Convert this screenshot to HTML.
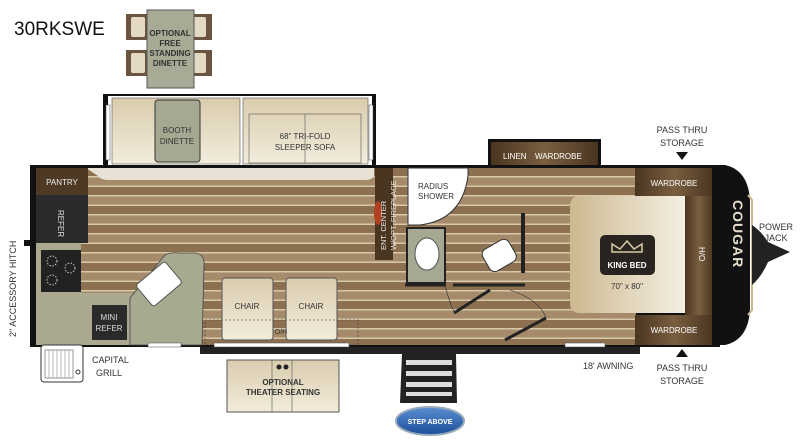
<!DOCTYPE html>
<html><head><meta charset="utf-8"><style>
html,body{margin:0;padding:0;background:#fff;}
svg{display:block;font-family:"Liberation Sans",sans-serif;}
</style></head><body>
<svg width="800" height="441" viewBox="0 0 800 441" xmlns="http://www.w3.org/2000/svg">
<defs>
<pattern id="wood" x="0" y="168" width="40" height="19" patternUnits="userSpaceOnUse">
<rect width="40" height="19" fill="#a58b6a"/>
<rect y="0" width="40" height="8" fill="#8c7050"/>
<rect y="8" width="40" height="1.5" fill="#d8c8aa"/>
<rect y="17.5" width="40" height="1.5" fill="#d8c8aa"/>
</pattern>
<linearGradient id="beige" x1="0" y1="0" x2="0" y2="1"><stop offset="0" stop-color="#d9ccae"/><stop offset="1" stop-color="#f3ecdc"/></linearGradient>
<linearGradient id="bed" x1="0" y1="0" x2="1" y2="0"><stop offset="0" stop-color="#cdb990"/><stop offset="1" stop-color="#f4efe2"/></linearGradient>
<linearGradient id="brown" x1="0" y1="0" x2="1" y2="0"><stop offset="0" stop-color="#4a3520"/><stop offset="0.5" stop-color="#7a5f40"/><stop offset="1" stop-color="#4a3520"/></linearGradient>
<linearGradient id="blue" x1="0" y1="0" x2="0" y2="1"><stop offset="0" stop-color="#5b8fd0"/><stop offset="1" stop-color="#1b4d9a"/></linearGradient>
</defs>

<text x="14" y="35" font-size="19" fill="#111">30RKSWE</text>

<!-- optional dinette -->
<rect x="126" y="14" width="22" height="26" fill="#6b5540"/><rect x="131" y="17" width="14" height="20" rx="2" fill="#e4dac4"/>
<rect x="126" y="50" width="22" height="26" fill="#6b5540"/><rect x="131" y="53" width="14" height="20" rx="2" fill="#e4dac4"/>
<rect x="190" y="14" width="22" height="26" fill="#6b5540"/><rect x="192" y="17" width="14" height="20" rx="2" fill="#e4dac4"/>
<rect x="190" y="50" width="22" height="26" fill="#6b5540"/><rect x="192" y="53" width="14" height="20" rx="2" fill="#e4dac4"/>
<rect x="147" y="10" width="47" height="78" fill="#a8aa95" stroke="#555" stroke-width="1"/>
<g font-size="8" font-weight="bold" fill="#333" text-anchor="middle">
<text x="170" y="36">OPTIONAL</text><text x="170" y="46">FREE</text><text x="170" y="56">STANDING</text><text x="170" y="66">DINETTE</text></g>

<!-- slide-out -->
<rect x="103" y="94" width="273" height="76" fill="#111"/>
<rect x="108" y="96" width="264" height="72" fill="#fff"/>
<rect x="112" y="98" width="128" height="66" fill="url(#beige)" stroke="#555" stroke-width="0.6"/>
<rect x="155" y="100" width="45" height="62" rx="3" fill="#a6a892" stroke="#333"/>
<text x="177" y="133" font-size="8" fill="#333" text-anchor="middle">BOOTH</text>
<text x="177" y="144" font-size="8" fill="#333" text-anchor="middle">DINETTE</text>
<rect x="243" y="98" width="125" height="66" fill="url(#beige)" stroke="#555" stroke-width="0.6"/>
<rect x="249" y="114" width="112" height="49" fill="none" stroke="#555" stroke-width="0.6"/>
<line x1="305" y1="114" x2="305" y2="163" stroke="#555" stroke-width="0.6"/>
<text x="305" y="139" font-size="8" fill="#333" text-anchor="middle">68" TRI-FOLD</text>
<text x="305" y="150" font-size="8" fill="#333" text-anchor="middle">SLEEPER SOFA</text>
<rect x="106" y="105" width="4" height="55" fill="#fff" stroke="#444" stroke-width="0.5"/>
<rect x="369" y="105" width="4" height="55" fill="#fff" stroke="#444" stroke-width="0.5"/>

<!-- linen/wardrobe bump -->
<rect x="488" y="139" width="113" height="30" fill="#111"/>
<rect x="491" y="142" width="107" height="27" fill="url(#brown)"/>
<text x="503" y="159" font-size="8" fill="#fff">LINEN</text>
<text x="535" y="159" font-size="8" fill="#fff">WARDROBE</text>

<!-- main body -->
<rect x="30" y="165" width="690" height="182" fill="#111"/>
<rect x="36" y="168" width="600" height="177" fill="url(#wood)"/>
<path d="M86 168 H374 V176 Q372 180 365 180 H110 Q100 180 98 176 Z" fill="#e8e2d6"/>

<!-- kitchen -->
<rect x="36" y="168" width="52" height="27" fill="#4e3a24"/>
<text x="62" y="185" font-size="8" fill="#eee" text-anchor="middle">PANTRY</text>
<rect x="36" y="195" width="52" height="48" fill="#2a2a2a"/>
<text x="58" y="210" font-size="8" fill="#ddd" transform="rotate(90 58 210)">REFER</text>
<rect x="36" y="243" width="45" height="52" fill="#aaa990"/>
<rect x="41" y="250" width="40" height="42" fill="#222"/>
<circle cx="52" cy="261" r="5" fill="none" stroke="#ccc" stroke-dasharray="1.5 1.5"/>
<circle cx="70" cy="268" r="5" fill="none" stroke="#ccc" stroke-dasharray="1.5 1.5"/>
<circle cx="52" cy="280" r="5" fill="none" stroke="#ccc" stroke-dasharray="1.5 1.5"/>
<path d="M36 293 H132 V345 H36 Z" fill="#aaa990"/>
<path d="M130 345 V298 L165 255 Q170 252 180 253 H196 Q205 255 204 265 L202 345 Z" fill="#a8aa90" stroke="#444" stroke-width="0.8"/>
<rect x="140" y="270" width="38" height="28" rx="3" fill="#fff" stroke="#555" transform="rotate(-40 159 284)"/>
<rect x="92" y="305" width="35" height="35" fill="#2a2a2a"/>
<text x="109" y="320" font-size="8" fill="#ddd" text-anchor="middle">MINI</text>
<text x="109" y="331" font-size="8" fill="#ddd" text-anchor="middle">REFER</text>
<text x="16" y="337" font-size="9" fill="#333" transform="rotate(-90 16 337)">2" ACCESSORY HITCH</text>
<rect x="24" y="240" width="7" height="6" fill="#111"/>

<!-- chairs -->
<rect x="222" y="278" width="51" height="62" rx="3" fill="url(#beige)" stroke="#555"/>
<rect x="286" y="278" width="51" height="62" rx="3" fill="url(#beige)" stroke="#555"/>
<text x="247" y="309" font-size="8" fill="#333" text-anchor="middle">CHAIR</text>
<text x="311" y="309" font-size="8" fill="#333" text-anchor="middle">CHAIR</text>
<rect x="205" y="320" width="153" height="25" fill="none" stroke="#333" stroke-width="0.6" stroke-dasharray="2 2"/>
<text x="281" y="334" font-size="7" fill="#333" text-anchor="middle">O/H</text>

<!-- ent center -->
<rect x="375" y="168" width="18" height="92" fill="#4a3520"/>
<ellipse cx="378" cy="213" rx="4" ry="12" fill="#b04020"/>
<text x="386" y="250" font-size="7.5" fill="#eee" transform="rotate(-90 386 250)">ENT. CENTER</text>
<text x="396" y="250" font-size="7.5" fill="#eee" transform="rotate(-90 396 250)">W/OPT. FIREPLACE</text>

<!-- bathroom -->
<path d="M408 168 H468 V176 Q462 220 420 225 H408 Z" fill="#fff" stroke="#333"/>
<text x="418" y="189" font-size="8" fill="#333">RADIUS</text>
<text x="418" y="199" font-size="8" fill="#333">SHOWER</text>
<rect x="407" y="228" width="38" height="55" fill="#a6a892" stroke="#222" stroke-width="2"/>
<ellipse cx="427" cy="254" rx="12" ry="16" fill="#fff" stroke="#555"/>
<path d="M405 285 H446" stroke="#222" stroke-width="3"/>
<rect x="521" y="213" width="4" height="60" fill="#222"/>
<rect x="484" y="243" width="30" height="25" rx="6" fill="#fff" stroke="#333" transform="rotate(-30 499 255)"/>
<line x1="453" y1="285" x2="525" y2="285" stroke="#222" stroke-width="3"/>
<line x1="454" y1="313" x2="490" y2="290" stroke="#222" stroke-width="3"/>
<line x1="505" y1="340" x2="546" y2="318" stroke="#222" stroke-width="3"/>
<path d="M445 285 Q450 305 455 313" fill="none" stroke="#333" stroke-width="0.6"/>
<path d="M510 290 Q540 300 546 318" fill="none" stroke="#333" stroke-width="0.6"/>

<!-- bedroom -->
<rect x="635" y="168" width="78" height="28" fill="url(#brown)"/>
<text x="674" y="186" font-size="8" fill="#fff" text-anchor="middle">WARDROBE</text>
<rect x="635" y="315" width="78" height="30" fill="url(#brown)"/>
<text x="674" y="333" font-size="8" fill="#fff" text-anchor="middle">WARDROBE</text>
<rect x="685" y="196" width="28" height="119" fill="url(#brown)"/>
<text x="699" y="247" font-size="8" fill="#fff" transform="rotate(90 699 247)">H/O</text>
<path d="M580 196 H685 V313 H580 Q570 313 570 303 V206 Q570 196 580 196 Z" fill="url(#bed)"/>
<rect x="600" y="235" width="55" height="40" rx="5" fill="#2a2420"/>
<path d="M612 252 L612 244 L620 249 L627 241 L634 249 L642 244 L642 252 Z" fill="none" stroke="#d8c9a6" stroke-width="1.5"/>
<text x="627" y="268" font-size="8" font-weight="bold" fill="#fff" text-anchor="middle">KING BED</text>
<text x="627" y="289" font-size="8" fill="#333" text-anchor="middle">70" x 80"</text>

<!-- front cap -->
<path d="M712 165 H725 Q748 170 750 200 V310 Q748 340 725 345 H712 Z" fill="#111"/>
<path d="M748 195 L752 200 V310 L748 315" fill="none" stroke="#c8b890" stroke-width="2"/>
<text x="733" y="200" font-size="14" font-weight="bold" fill="#e8e0cc" transform="rotate(90 733 200)" letter-spacing="1">COUGAR</text>
<path d="M752 225 Q762 232 768 242 L790 252 L768 262 Q762 276 752 285 Z" fill="#222"/>
<text x="776" y="230" font-size="9" fill="#333" text-anchor="middle">POWER</text>
<text x="776" y="241" font-size="9" fill="#333" text-anchor="middle">JACK</text>

<!-- pass thru -->
<text x="682" y="133" font-size="9" fill="#333" text-anchor="middle">PASS THRU</text>
<text x="682" y="146" font-size="9" fill="#333" text-anchor="middle">STORAGE</text>
<path d="M676 152 H688 L682 160 Z" fill="#111"/>
<path d="M676 357 H688 L682 349 Z" fill="#111"/>
<text x="682" y="371" font-size="9" fill="#333" text-anchor="middle">PASS THRU</text>
<text x="682" y="384" font-size="9" fill="#333" text-anchor="middle">STORAGE</text>
<text x="583" y="369" font-size="9" fill="#333">18' AWNING</text>

<!-- awning bar & windows -->
<rect x="200" y="347" width="440" height="7" fill="#222"/>
<rect x="214" y="343" width="135" height="4" fill="#fff" stroke="#444" stroke-width="0.5"/>
<rect x="148" y="343" width="33" height="4" fill="#fff" stroke="#444" stroke-width="0.5"/>
<rect x="565" y="343" width="40" height="4" fill="#fff" stroke="#444" stroke-width="0.5"/>

<!-- theater seating -->
<rect x="227" y="360" width="112" height="52" fill="url(#beige)" stroke="#555"/>
<line x1="272" y1="360" x2="272" y2="412" stroke="#555" stroke-width="0.6"/>
<line x1="292" y1="360" x2="292" y2="412" stroke="#555" stroke-width="0.6"/>
<circle cx="279" cy="367" r="2.5" fill="#222"/><circle cx="286" cy="367" r="2.5" fill="#222"/>
<text x="283" y="385" font-size="8" font-weight="bold" fill="#333" text-anchor="middle">OPTIONAL</text>
<text x="283" y="395" font-size="8" font-weight="bold" fill="#333" text-anchor="middle">THEATER SEATING</text>

<!-- stairs -->
<path d="M402 354 H456 L457 403 H400 Z" fill="#222"/>
<rect x="406" y="360" width="46" height="5" fill="#ddd"/>
<rect x="406" y="371" width="46" height="5" fill="#ddd"/>
<rect x="406" y="382" width="46" height="5" fill="#ddd"/>
<rect x="406" y="392" width="46" height="4" fill="#ddd"/>
<ellipse cx="430" cy="421" rx="34" ry="14" fill="url(#blue)" stroke="#9ab" stroke-width="2"/>
<text x="430" y="424" font-size="7" font-weight="bold" fill="#fff" text-anchor="middle">STEP ABOVE</text>

<!-- grill -->
<rect x="41" y="345" width="42" height="37" rx="3" fill="#fff" stroke="#333"/>
<rect x="45" y="350" width="28" height="28" fill="none" stroke="#555" stroke-width="0.6"/>
<g stroke="#888" stroke-width="0.6"><line x1="49" y1="350" x2="49" y2="378"/><line x1="53" y1="350" x2="53" y2="378"/><line x1="57" y1="350" x2="57" y2="378"/><line x1="61" y1="350" x2="61" y2="378"/><line x1="65" y1="350" x2="65" y2="378"/><line x1="69" y1="350" x2="69" y2="378"/></g>
<circle cx="78" cy="372" r="2" fill="none" stroke="#333"/>
<text x="92" y="363" font-size="9" fill="#333">CAPITAL</text>
<text x="96" y="376" font-size="9" fill="#333">GRILL</text>
</svg>
</body></html>
